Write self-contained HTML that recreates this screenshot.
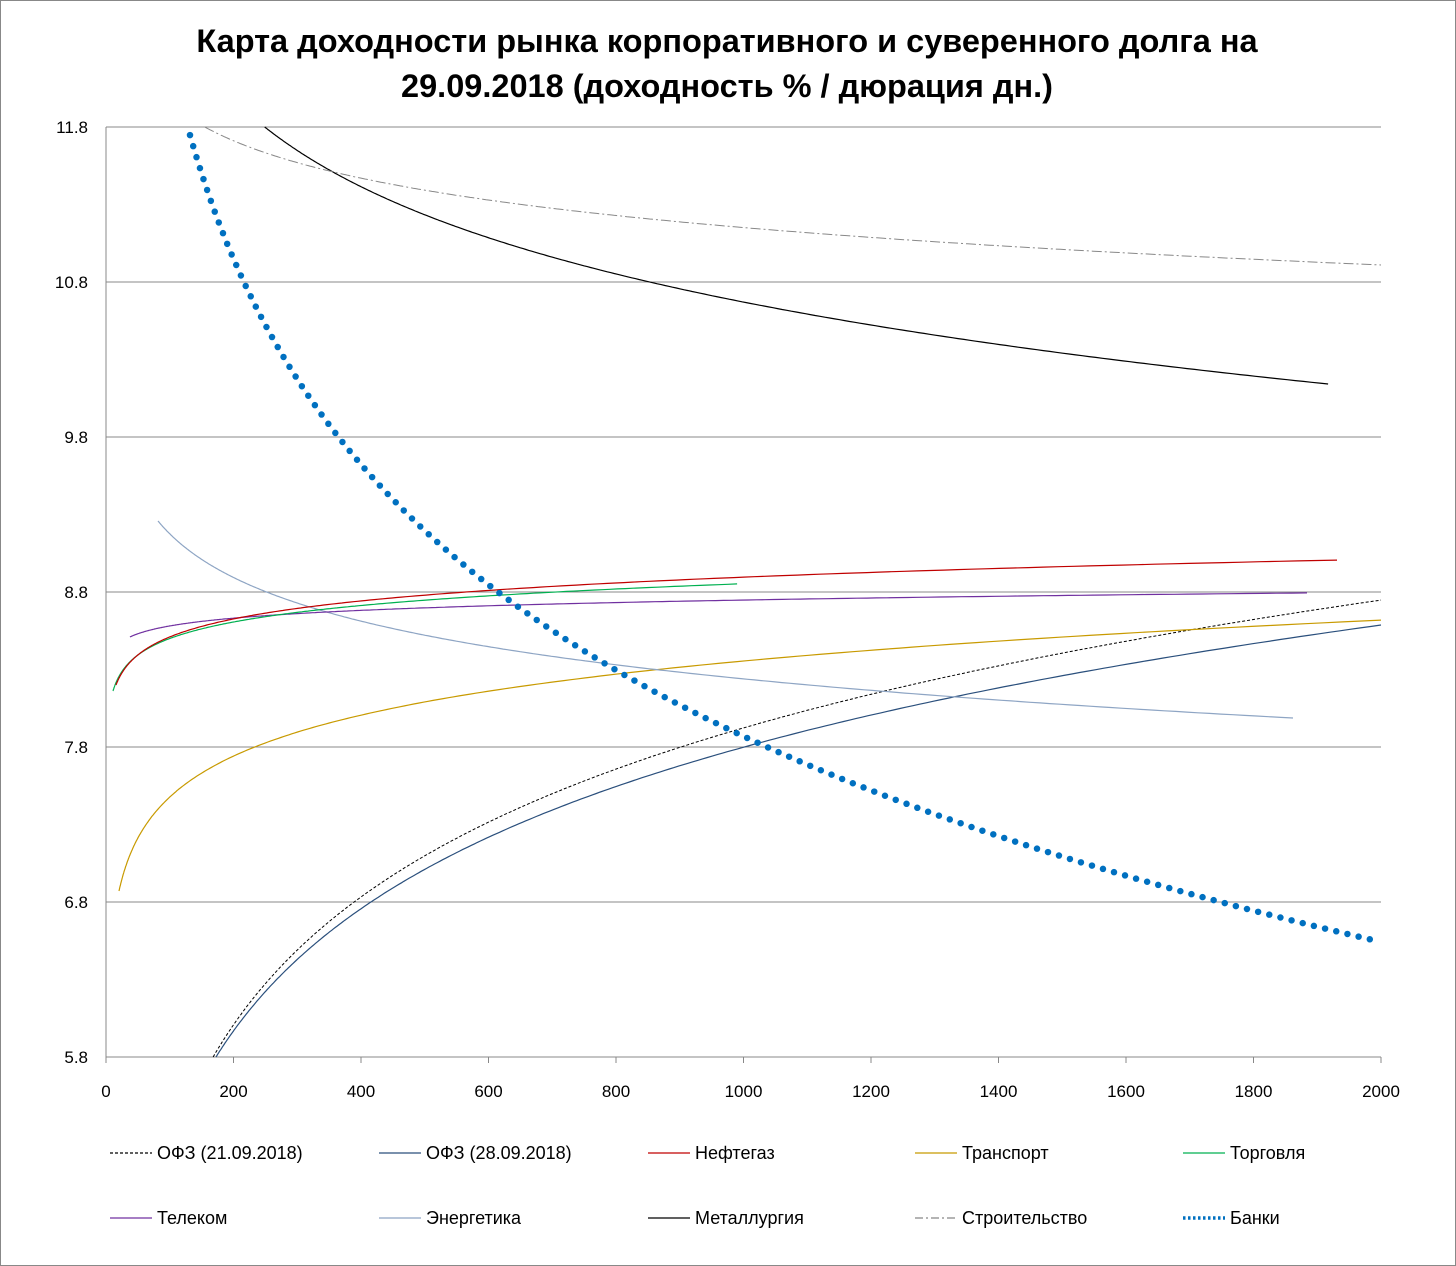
<!DOCTYPE html>
<html><head><meta charset="utf-8"><style>
html,body{margin:0;padding:0;background:#fff}
svg{display:block}
text{font-family:"Liberation Sans",sans-serif}
</style></head><body>
<svg id="s" width="1456" height="1266" xmlns="http://www.w3.org/2000/svg">
<rect x="0.5" y="0.5" width="1455" height="1265" fill="#fff" stroke="#888"/>
<text x="727" y="52" text-anchor="middle" font-size="32.5" font-weight="bold">Карта доходности рынка корпоративного и суверенного долга на</text>
<text x="727" y="97" text-anchor="middle" font-size="32.5" font-weight="bold">29.09.2018 (доходность % / дюрация дн.)</text>
<g id="grid"></g>
<g id="series"></g>
<g id="legend" font-size="18"></g>
</svg>
<script>
var NS="http://www.w3.org/2000/svg";
function px(x){return 106+x*0.6375;}
function py(v){return 127+(11.8-v)*155;}
function el(t,a,p,txt){var e=document.createElementNS(NS,t);for(var k in a)e.setAttribute(k,a[k]);if(txt!==undefined)e.textContent=txt;p.appendChild(e);return e;}
var g=document.getElementById('grid');
var ys=[11.8,10.8,9.8,8.8,7.8,6.8,5.8];
ys.forEach(function(v){var y=py(v);
 el('line',{x1:106,x2:1381,y1:y,y2:y,stroke:'#888','stroke-width':1},g);
 el('text',{x:88,y:y+6,'text-anchor':'end','font-size':17},g,v.toFixed(1));});
el('line',{x1:106,x2:106,y1:127,y2:1057,stroke:'#888'},g);
for(var x=0;x<=2000;x+=200){var X=px(x);
 el('line',{x1:X,x2:X,y1:1057,y2:1063,stroke:'#888'},g);
 el('text',{x:X,y:1097,'text-anchor':'middle','font-size':17},g,String(x));}
var s=document.getElementById('series');
function curve(x0,v0,x1,v1,st){var b=(v1-v0)/Math.log(x1/x0);var d='';
 for(var i=0;i<=300;i++){var x=x0*Math.pow(x1/x0,i/300);var v=v0+b*Math.log(x/x0);
  if(v>11.8||v<5.8)continue;d+=(d?'L':'M')+px(x).toFixed(1)+','+py(v).toFixed(1);}
 var a={d:d,fill:'none'};for(var k in st)a[k]=st[k];el('path',a,s);}
curve(168,5.8,2000,8.748,{stroke:'#000','stroke-width':1,'stroke-dasharray':'3,2'});
curve(172.5,5.8,2000,8.587,{stroke:'#2a4f7c','stroke-width':1.2});
curve(20.4,6.871,2000,8.619,{stroke:'#c89a00','stroke-width':1.2});
curve(81.6,9.258,1862,7.987,{stroke:'#8ea5c4','stroke-width':1.2});
curve(37.6,8.51,1884,8.794,{stroke:'#7030a0','stroke-width':1.2});
curve(11,8.161,990,8.852,{stroke:'#00b050','stroke-width':1.2});
curve(15.7,8.2,1931,9.006,{stroke:'#c00000','stroke-width':1.2});
curve(249,11.8,1917,10.142,{stroke:'#000','stroke-width':1.2});
curve(155,11.8,2000,10.91,{stroke:'#888','stroke-width':1,'stroke-dasharray':'10,3,2,3'});
curve(131.8,11.748,1987,6.555,{stroke:'#0070c0','stroke-width':6.5,'stroke-linecap':'round','stroke-dasharray':'0,11.5'});
var L=document.getElementById('legend');
var items=[
[110,1153,'ОФЗ (21.09.2018)',{stroke:'#000','stroke-dasharray':'3,2'}],
[379,1153,'ОФЗ (28.09.2018)',{stroke:'#2a4f7c'}],
[648,1153,'Нефтегаз',{stroke:'#c00000'}],
[915,1153,'Транспорт',{stroke:'#c89a00'}],
[1183,1153,'Торговля',{stroke:'#00b050'}],
[110,1218,'Телеком',{stroke:'#7030a0'}],
[379,1218,'Энергетика',{stroke:'#8ea5c4'}],
[648,1218,'Металлургия',{stroke:'#000'}],
[915,1218,'Строительство',{stroke:'#888','stroke-dasharray':'8,3,2,3'}],
[1183,1218,'Банки',{stroke:'#0070c0','stroke-width':3.5,'stroke-dasharray':'2.5,2.5'}]];
items.forEach(function(it){var a={x1:it[0],x2:it[0]+42,y1:it[1],y2:it[1],'stroke-width':1.3};for(var k in it[3])a[k]=it[3][k];
 el('line',a,L);el('text',{x:it[0]+47,y:it[1]+6},L,it[2]);});
</script>
</body></html>
